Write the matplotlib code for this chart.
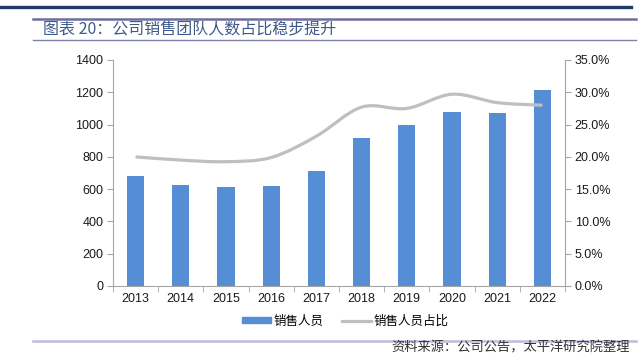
import numpy as np
import matplotlib.pyplot as plt
from matplotlib.path import Path
from matplotlib.patches import PathPatch
from matplotlib.lines import Line2D
from matplotlib.ticker import FixedLocator, FuncFormatter

plt.rcParams['font.family'] = ['Liberation Sans', 'Noto Sans CJK SC', 'DejaVu Sans']

years = ['2013', '2014', '2015', '2016', '2017', '2018', '2019', '2020', '2021', '2022']
sales_staff = [683, 624, 615, 621, 712, 915, 995, 1076, 1070, 1212]
sales_share = [20.0, 19.5, 19.25, 19.9, 23.2, 27.7, 27.5, 29.7, 28.4, 28.0]

bar_color = '#558ED5'
line_color = '#BFBFBF'
axis_color = '#A6A6A6'

fig = plt.figure(figsize=(6.39, 3.54), dpi=100)

# header / footer rules
fig.add_artist(Line2D([0, 631/639], [1 - 6.5/354] * 2, color='#1F3B66', lw=2.4))
fig.add_artist(Line2D([33/639, 636/639], [1 - 19/354] * 2, color='#6E6E9E', lw=1.8))
fig.add_artist(Line2D([33/639, 636/639], [1 - 40/354] * 2, color='#8080AA', lw=1.0))
fig.add_artist(Line2D([33/639, 636/639], [1 - 340.5/354] * 2, color='#BDBDD8', lw=1.8))
fig.text(43/639, 1 - 29.5/354, '图表 20：公司销售团队人数占比稳步提升', color='#3D5A8A',
         fontsize=11.5, va='center', ha='left', family=['Noto Sans CJK SC'])
fig.text(630/639, 1 - 347.5/354, '资料来源：公司公告，太平洋研究院整理', color='#333333',
         fontsize=9.5, va='center', ha='right', family=['Noto Sans CJK SC'])

ax = fig.add_axes([113/639, 1 - 286/354, 452/639, 226/354])
x = np.arange(len(years))
ax.bar(x, sales_staff, width=0.38, color=bar_color, zorder=2, label='销售人员')
ax.set_xlim(-0.5, len(years) - 0.5)
ax.set_ylim(0, 1400)
ax.set_yticks(range(0, 1401, 200))
ax.set_xticks(x)
ax.set_xticklabels(years)
ax.xaxis.set_minor_locator(FixedLocator(np.arange(-0.5, len(years), 1.0)))
ax.tick_params(axis='x', which='major', length=0, pad=5)
ax.tick_params(axis='x', which='minor', length=4, color=axis_color)
ax.tick_params(axis='y', length=4, color=axis_color, pad=3)
ax.tick_params(labelsize=9, labelcolor='#1A1A1A')
for s in ['top', 'right']:
    ax.spines[s].set_visible(False)
for s in ['left', 'bottom']:
    ax.spines[s].set_color(axis_color)

ax2 = ax.twinx()
ax2.set_ylim(0, 35)
ax2.set_yticks(np.arange(0, 35.1, 5))
ax2.yaxis.set_major_formatter(FuncFormatter(lambda v, p: f'{v:.1f}%'))
ax2.tick_params(axis='y', length=4, color=axis_color, labelsize=9, labelcolor='#1A1A1A', pad=3)
for s in ['top', 'left', 'bottom']:
    ax2.spines[s].set_visible(False)
ax2.spines['right'].set_color(axis_color)

# smoothed line (Catmull-Rom -> cubic Bezier through the data points)
pts = np.column_stack([x, sales_share]).astype(float)
verts = [tuple(pts[0])]
codes = [Path.MOVETO]
for i in range(len(pts) - 1):
    p0 = pts[i - 1] if i > 0 else pts[i]
    p1, p2 = pts[i], pts[i + 1]
    p3 = pts[i + 2] if i + 2 < len(pts) else pts[i + 1]
    c1 = p1 + (p2 - p0) / 6
    c2 = p2 - (p3 - p1) / 6
    verts += [tuple(c1), tuple(c2), tuple(p2)]
    codes += [Path.CURVE4] * 3
ax2.add_patch(PathPatch(Path(verts, codes), fill=False, edgecolor=line_color, lw=2.3,
                        capstyle='butt', zorder=3))

handles = [plt.Rectangle((0, 0), 1, 1, color=bar_color),
           Line2D([], [], color=line_color, lw=2.3)]
fig.legend(handles, ['销售人员', '销售人员占比'], loc='center', bbox_to_anchor=(345/639, 1 - 321/354),
           ncol=2, frameon=False, handlelength=2.3, handleheight=0.45,
           columnspacing=1.5, handletextpad=0.2, prop={'family': ['Noto Sans CJK SC'], 'size': 9})

fig.savefig('out.png', dpi=100)
